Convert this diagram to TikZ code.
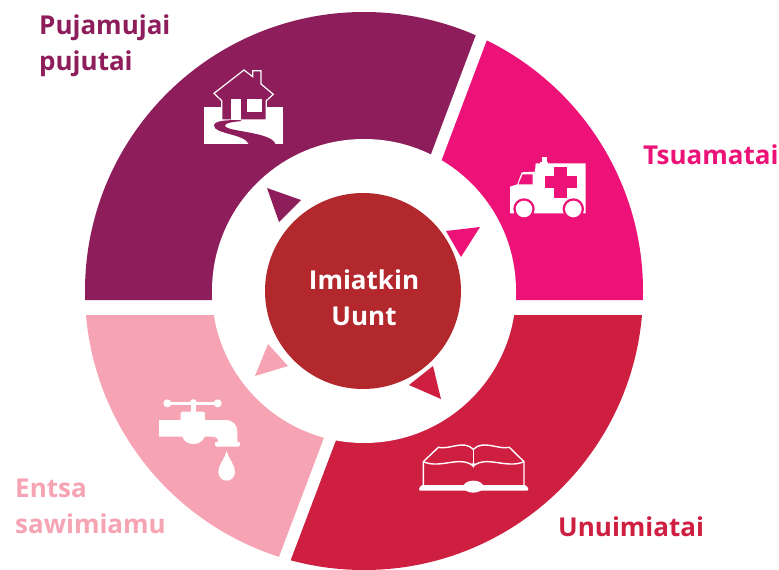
\documentclass[tikz,border=0pt]{standalone}
\usepackage{fontspec}
\setmainfont{Open Sans}[BoldFont={Open Sans Bold}]
\definecolor{cpurple}{HTML}{8E1D5C}
\definecolor{cpink}{HTML}{ED1277}
\definecolor{cred}{HTML}{CE1F41}
\definecolor{csalmon}{HTML}{F6A4B3}
\definecolor{ccore}{HTML}{B2282D}
\tikzset{
  lab/.style={inner sep=0pt,align=left,anchor=west,font=\bfseries\fontsize{26}{36}\selectfont},
  icon/.style={x=0.3333pt,y=-0.3333pt},
}
\begin{document}
\begin{tikzpicture}[x=1pt,y=-1pt]
\useasboundingbox (0,0) rectangle (779,570);
\fill[white] (0,0) rectangle (779,570);
% ring segments
\begin{scope}
\clip (364,291) circle[radius=279pt];
\fill[cpurple] (0,300) -- (376,300) -- (489,0) -- (0,0) -- cycle;
\fill[cpink] (389,300) -- (502,0) -- (779,0) -- (779,300) -- cycle;
\fill[csalmon] (0,315) -- (370.3,315) -- (274,570) -- (0,570) -- cycle;
\fill[cred] (383.3,315) -- (287,570) -- (779,570) -- (779,315) -- cycle;
\end{scope}
\fill[white] (364,291) circle[radius=152pt];
% triangles
\fill[cpurple] (267,188) -- (301,200) -- (279,222) -- cycle;
\fill[cpink] (446,231) -- (480,227) -- (461,257) -- cycle;
\fill[cred] (433,366) -- (441,399) -- (409,385) -- cycle;
\fill[csalmon] (268,344) -- (288,366) -- (255,376) -- cycle;
% centre
\node[circle,fill=ccore,minimum size=196pt,inner sep=0pt] (core) at (363,291) {};
\node[text=white,inner sep=0pt,align=center,font=\bfseries\fontsize{26}{36}\selectfont] (coretext) at (364,298) {Imiatkin\\Uunt};
% labels
\node[lab,text=cpurple] (l1) at (39,46) {Pujamujai\\pujutai};
\node[lab,text=cpink] (l2) at (643,155) {Tsuamatai};
\node[lab,text=cred] (l3) at (558,527) {Unuimiatai};
\node[lab,text=csalmon] (l4) at (15,506) {Entsa\\sawimiamu};
% house
\begin{scope}[shift={(190,60)},icon]
\fill[white] (43,140) rectangle (280,252);
\filldraw[fill=cpurple,draw=white,line width=1.2pt,line join=miter]
  (162,30) -- (188,50) -- (188,32) -- (213,32) -- (213,72) -- (250,103) -- (229,122) -- (229,180)
  -- (95,180) -- (95,122) -- (72,100) -- cycle;
\fill[white] (122,118) rectangle (152,180);
\fill[white] (172,118) rectangle (215,155);
\fill[cpurple] (150,180) .. controls (110,180) and (72,182) .. (72,197)
  .. controls (72,222) and (165,222) .. (176,252) -- (256,252)
  .. controls (245,215) and (105,215) .. (105,197)
  .. controls (105,188) and (130,186) .. (155,183) -- cycle;
\end{scope}
% ambulance
\begin{scope}[shift={(500,145)},icon]
\fill[white] (125,35) rectangle (141,50);
\fill[white] (120,50) rectangle (145,56);
\fill[white] (30,205) -- (30,125) -- (52,118) -- (65,82) -- (105,80) -- (107,55) -- (257,55) -- (257,205) -- cycle;
\fill[cpink] (55,118) -- (68,88) -- (98,88) -- (98,118) -- cycle;
\fill[cpink] (163,67) rectangle (200,160);
\fill[cpink] (136,93) rectangle (230,130);
\fill[cpink] (72,192) circle[radius=10.7pt];
\fill[cpink] (220,192) circle[radius=10.7pt];
\fill[white] (72,192) circle[radius=8.3pt];
\fill[white] (220,192) circle[radius=8.3pt];
\end{scope}
% book
\begin{scope}[shift={(410,430)},icon]
\draw[white,line width=1.4pt,line join=round]
  (40,170) -- (40,95) -- (85,52) .. controls (120,60) and (160,28) .. (190,58)
  .. controls (220,28) and (265,60) .. (298,52) -- (342,95) -- (342,170);
\draw[white,line width=1.4pt]
  (40,95) .. controls (90,118) and (150,75) .. (190,108)
  .. controls (230,75) and (290,118) .. (342,95);
\draw[white,line width=1.4pt] (190,58) -- (190,108);
\fill[white] (184,100) -- (196,100) -- (190,114) -- cycle;
\fill[white,rounded corners=1pt] (27,175) -- (35,165) -- (347,165) -- (355,175) -- (355,182) -- (27,182) -- cycle;
\fill[white] (190,170) ellipse[x radius=10pt,y radius=6pt];
\end{scope}
% tap
\begin{scope}[shift={(150,390)},icon]
\fill[white] (52,40) circle[radius=4pt];
\fill[white] (203,40) circle[radius=4pt];
\fill[white] (130,38) circle[radius=3.5pt];
\fill[white] (52,35) rectangle (203,45);
\fill[white] (122,40) rectangle (138,70);
\fill[white,rounded corners=2pt] (92,95) -- (92,65) -- (165,65) -- (165,95) -- cycle;
\fill[white] (27,90) -- (225,90) .. controls (250,90) and (262,105) .. (262,125) -- (262,156) -- (205,156)
  .. controls (205,145) and (198,140) .. (185,140) -- (164,140)
  .. controls (158,155) and (145,162) .. (130,162)
  .. controls (115,162) and (102,155) .. (97,140) -- (27,140) -- cycle;
\fill[white,rounded corners=2pt] (195,155) rectangle (270,170);
\fill[white] (230,182) .. controls (225,205) and (205,225) .. (205,245)
  .. controls (205,262) and (218,272) .. (230,272)
  .. controls (243,272) and (255,262) .. (255,245)
  .. controls (255,225) and (235,205) .. (230,182) -- cycle;
\end{scope}
\end{tikzpicture}
\end{document}
